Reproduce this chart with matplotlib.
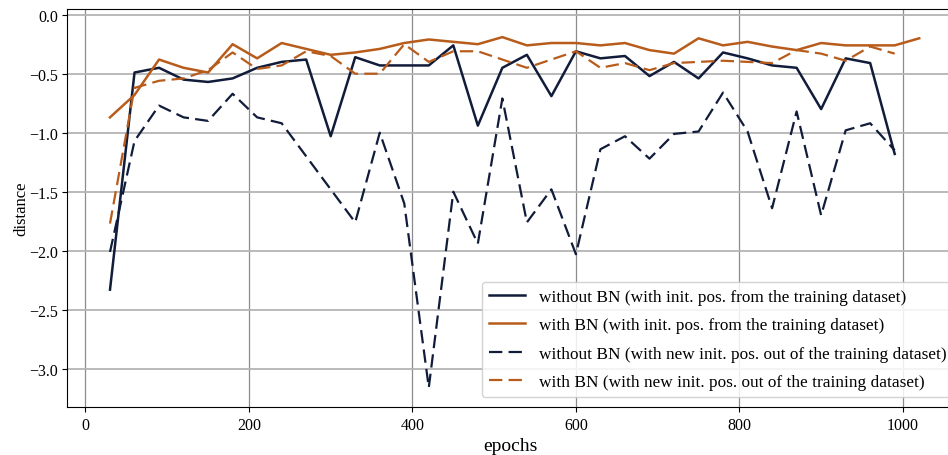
import matplotlib
matplotlib.use("Agg")
import matplotlib.pyplot as plt

# ── Datos ──────────────────────────────────────────────────────────────────
epochs = [30, 60, 90, 120, 150, 180, 210, 240, 270, 300, 330, 360, 390, 420,
          450, 480, 510, 540, 570, 600, 630, 660, 690, 720, 750, 780, 810, 840,
          870, 900, 930, 960, 990]
epochs_bn = epochs + [1020]

nobn_train = [-2.33, -0.49, -0.45, -0.55, -0.57, -0.54, -0.45, -0.40, -0.38,
              -1.03, -0.36, -0.43, -0.43, -0.43, -0.26, -0.94, -0.45, -0.34,
              -0.69, -0.31, -0.37, -0.35, -0.52, -0.40, -0.54, -0.32, -0.37,
              -0.43, -0.45, -0.80, -0.37, -0.41, -1.18]

bn_train = [-0.87, -0.68, -0.38, -0.45, -0.49, -0.25, -0.37, -0.24, -0.29,
            -0.34, -0.32, -0.29, -0.24, -0.21, -0.23, -0.25, -0.19, -0.26,
            -0.24, -0.24, -0.26, -0.24, -0.30, -0.33, -0.20, -0.26, -0.23,
            -0.27, -0.30, -0.24, -0.26, -0.26, -0.26, -0.20]

nobn_new = [-2.01, -1.07, -0.77, -0.87, -0.90, -0.67, -0.87, -0.92, -1.20,
            -1.48, -1.76, -1.00, -1.60, -3.16, -1.50, -1.94, -0.71, -1.76,
            -1.48, -2.03, -1.14, -1.03, -1.22, -1.01, -0.99, -0.66, -0.99,
            -1.64, -0.82, -1.70, -0.98, -0.92, -1.15]

bn_new = [-1.77, -0.62, -0.56, -0.54, -0.47, -0.32, -0.46, -0.43, -0.31,
          -0.35, -0.50, -0.50, -0.25, -0.40, -0.31, -0.31, -0.38, -0.45,
          -0.38, -0.31, -0.45, -0.41, -0.47, -0.41, -0.40, -0.39, -0.40,
          -0.41, -0.30, -0.33, -0.39, -0.27, -0.33]

labels = ["without BN (with init. pos. from the training dataset)",
          "with BN (with init. pos. from the training dataset)",
          "without BN (with new init. pos. out of the training dataset)",
          "with BN (with new init. pos. out of the training dataset)"]

NAVY = "#111c3a"
ORANGE = "#b85c1c"
DASH = (6, 2.8)

# ── Figura ─────────────────────────────────────────────────────────────────
plt.rcParams["font.family"] = ["Liberation Serif", "DejaVu Serif"]

fig = plt.figure(figsize=(9.48, 4.56), dpi=100)
ax = fig.add_axes([0.0712, 0.1046, 1.005 - 0.0712, 0.978 - 0.1046])

ax.plot(epochs, nobn_train, color=NAVY, lw=1.8, label=labels[0], zorder=3)
ax.plot(epochs_bn, bn_train, color=ORANGE, lw=1.8, label=labels[1], zorder=3)
ax.plot(epochs, nobn_new, color=NAVY, lw=1.6, ls="--", dashes=DASH,
        label=labels[2], zorder=3)
ax.plot(epochs, bn_new, color=ORANGE, lw=1.6, ls="--", dashes=DASH,
        label=labels[3], zorder=3)

ax.set_xlim(-22, 1061)
ax.set_ylim(-3.327, 0.048)
ax.set_xticks([0, 200, 400, 600, 800, 1000])
ax.set_yticks([0.0, -0.5, -1.0, -1.5, -2.0, -2.5, -3.0])
ax.xaxis.grid(True, color="#8c8c8c", lw=0.9, zorder=0)
ax.yaxis.grid(True, color="#b4b4b4", lw=1.3, zorder=0)
ax.set_axisbelow(True)
ax.spines["right"].set_visible(False)

ax.tick_params(labelsize=11.5)
ax.set_xlabel("epochs", fontsize=14, labelpad=3)
ax.set_ylabel("distance", fontsize=12, labelpad=0)

ax.legend(loc="upper left", bbox_to_anchor=(481.7 / 948, 1 - 282.7 / 456),
          bbox_transform=fig.transFigure, borderaxespad=0, fontsize=12.4,
          handlelength=2.1, labelspacing=0.72, framealpha=0.85,
          edgecolor="#cccccc")

fig.savefig("out.png", dpi=100)
